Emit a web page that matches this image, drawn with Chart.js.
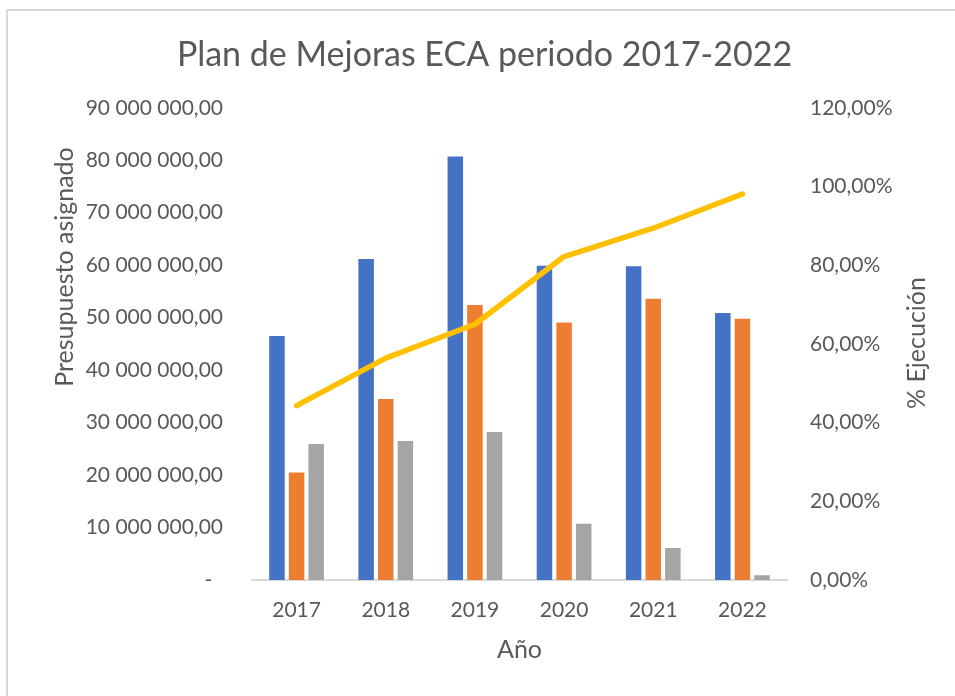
<!DOCTYPE html>
<html>
<head>
<meta charset="utf-8">
<title>Plan de Mejoras ECA periodo 2017-2022</title>
<script src="https://cdn.jsdelivr.net/npm/chart.js@4.4.1/dist/chart.umd.min.js"></script>
<style>
  html, body { margin: 0; padding: 0; overflow: hidden; background: #fff; }
  #frame {
    position: absolute; left: 6px; top: 9px; width: 1000px; height: 1000px;
    border: 2px solid #d9d9d9; box-sizing: border-box;
  }
  #chart { position: absolute; left: 0; top: 0; }
</style>
</head>
<body>
<div id="frame"></div>
<canvas id="chart" width="955" height="696"></canvas>
<script>
// datos
const years = ['2017', '2018', '2019', '2020', '2021', '2022'];
const asignado  = [46500000, 61200000, 80700000, 59900000, 59800000, 50900000];
const ejecutado = [20500000, 34500000, 52400000, 49100000, 53600000, 49800000];
const saldo     = [25900000, 26500000, 28200000, 10700000, 6100000, 900000];
const pctEjecucion = [44.3, 56.4, 65.0, 82.2, 89.4, 98.1];

const leftTicks = [0, 10000000, 20000000, 30000000, 40000000, 50000000, 60000000, 70000000, 80000000, 90000000];
const rightTicks = [0, 20, 40, 60, 80, 100, 120];

const textColor = '#595959';
const fontFamily = 'Lato, "Open Sans", sans-serif';

function fmtMoney(v) {
  if (v === 0) return '-  ';
  return Math.round(v).toString().replace(/\B(?=(\d{3})+(?!\d))/g, ' ') + ',00';
}
function fmtPct(v) {
  return v.toFixed(2).replace('.', ',') + '%';
}

// titulos de los ejes verticales (los dos giran -90 grados como en Excel)
const sideTitles = {
  id: 'sideTitles',
  afterDraw(chart) {
    const ctx = chart.ctx;
    ctx.save();
    ctx.fillStyle = textColor;
    ctx.font = '25px ' + fontFamily;
    ctx.textAlign = 'center';
    ctx.textBaseline = 'middle';
    [['Presupuesto asignado', 65, 267], ['% Ejecución', 917, 343]].forEach(t => {
      ctx.save();
      ctx.translate(t[1], t[2]);
      ctx.rotate(-Math.PI / 2);
      ctx.fillText(t[0], 0, 0);
      ctx.restore();
    });
    ctx.restore();
  }
};

new Chart(document.getElementById('chart'), {
  type: 'bar',
  data: {
    labels: years,
    datasets: [
      {
        type: 'line',
        label: '% Ejecución',
        data: pctEjecucion,
        yAxisID: 'y1',
        borderColor: '#FFC000',
        backgroundColor: '#FFC000',
        borderWidth: 5.5,
        borderCapStyle: 'round',
        borderJoinStyle: 'round',
        pointRadius: 0,
        tension: 0,
        order: 0
      },
      { label: 'Asignado', data: asignado, backgroundColor: '#4472C4', yAxisID: 'y', order: 1 },
      { label: 'Ejecutado', data: ejecutado, backgroundColor: '#ED7D31', yAxisID: 'y', order: 1 },
      { label: 'Saldo', data: saldo, backgroundColor: '#A5A5A5', yAxisID: 'y', order: 1 }
    ]
  },
  options: {
    responsive: false,
    animation: false,
    devicePixelRatio: 1,
    categoryPercentage: 0.66,
    barPercentage: 0.79,
    layout: { padding: { left: 14, right: 0, top: 0, bottom: 0 } },
    plugins: {
      legend: { display: false },
      tooltip: { enabled: false },
      title: {
        display: true,
        text: 'Plan de Mejoras ECA periodo 2017-2022',
        color: textColor,
        font: { family: fontFamily, size: 34, weight: 'normal' },
        padding: { top: 35, bottom: 32 }
      }
    },
    scales: {
      x: {
        grid: { display: false, drawTicks: false },
        border: { display: true, color: '#d9d9d9', width: 2 },
        ticks: { color: textColor, font: { family: fontFamily, size: 21 }, padding: 18, maxRotation: 0 },
        title: {
          display: true, text: 'Año', color: textColor,
          font: { family: fontFamily, size: 25 },
          padding: { top: 0, bottom: 31 }
        },
        afterFit(scale) { scale.height = 116; }
      },
      y: {
        position: 'left',
        min: 0, max: 90000000,
        grid: { display: false, drawTicks: false },
        border: { display: false },
        afterBuildTicks(scale) { scale.ticks = leftTicks.map(v => ({ value: v })); },
        ticks: {
          color: textColor, font: { family: fontFamily, size: 21 }, padding: 29,
          callback: v => fmtMoney(v)
        },
        afterFit(scale) { scale.width = 238; }
      },
      y1: {
        position: 'right',
        min: 0, max: 120,
        grid: { display: false, drawTicks: false },
        border: { display: false },
        afterBuildTicks(scale) { scale.ticks = rightTicks.map(v => ({ value: v })); },
        ticks: {
          color: textColor, font: { family: fontFamily, size: 21 }, padding: 23,
          callback: v => fmtPct(v)
        },
        afterFit(scale) { scale.width = 168; }
      }
    }
  },
  plugins: [sideTitles]
});
</script>
</body>
</html>
